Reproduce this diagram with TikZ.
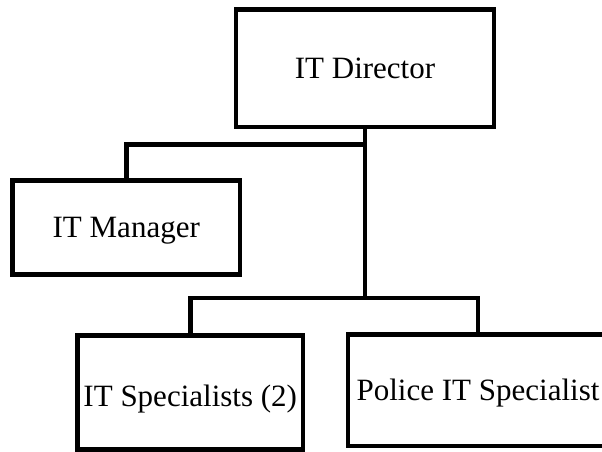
\documentclass[tikz,border=0pt]{standalone}
\usepackage{fontspec}
\setmainfont{Liberation Serif}
\begin{document}
\begin{tikzpicture}[x=1pt,y=1pt,
  orgbox/.style={draw=black, line width=4.5pt, fill=white, rectangle,
    inner sep=0pt, outer sep=0pt, text height=20.5pt, text depth=0pt,
    font=\fontsize{31}{36}\selectfont},
  link/.style={draw=black, line width=4.5pt}]
  \useasboundingbox (0,0) rectangle (602,-452);
  \clip (0,0) rectangle (602,-452);
  \fill[white] (0,0) rectangle (602,-452);

  % boxes
  \node[orgbox, minimum width=258pt, minimum height=117.5pt] (dir) at (365,-68.25) {IT Director};
  \node[orgbox, minimum width=227.5pt, minimum height=94pt] (mgr) at (126.25,-227.5) {IT Manager};
  \node[orgbox, minimum width=225.5pt, minimum height=114pt, text height=28.5pt] (spec) at (190.25,-392.5) {IT Specialists (2)};
  \node[orgbox, minimum width=260pt, minimum height=111.5pt] (pol) at (478,-390.25) {Police IT Specialist};

  % junction points on the trunk
  \coordinate (bus1) at (dir.south |- 0,-144.5);
  \coordinate (bus2) at (dir.south |- 0,-298);

  % connectors
  \draw[link] (dir.south) -- (bus2);
  \draw[link] (mgr.north) |- (bus1);
  \draw[link] (spec.north) |- (bus2) -| (pol.north);
\end{tikzpicture}
\end{document}
